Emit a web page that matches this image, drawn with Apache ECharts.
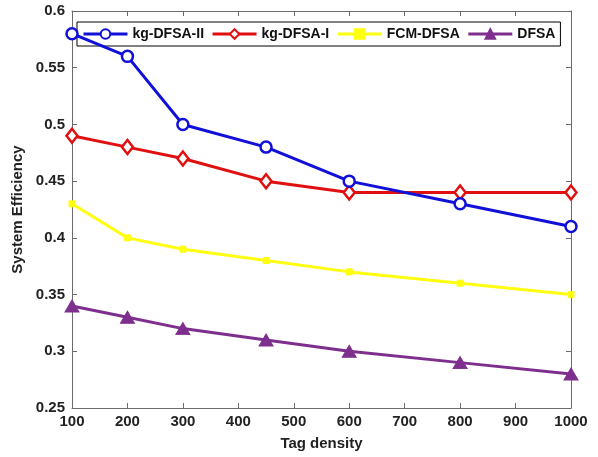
<!DOCTYPE html>
<html>
<head>
<meta charset="utf-8">
<script src="https://cdn.jsdelivr.net/npm/echarts@6/dist/echarts.min.js"></script>
<style>
  html, body { margin: 0; padding: 0; background: #fff; }
  #chart { width: 598px; height: 457px; }
</style>
</head>
<body>
<div id="chart"></div>
<script>
// Tag density sample points
const tagDensity = [100, 200, 300, 450, 600, 800, 1000];
// System efficiency per scheme
const kgDfsaII = [0.58, 0.56, 0.50, 0.48, 0.45, 0.43, 0.41];
const kgDfsaI  = [0.49, 0.48, 0.47, 0.45, 0.44, 0.44, 0.44];
const fcmDfsa  = [0.43, 0.40, 0.39, 0.38, 0.37, 0.36, 0.35];
const dfsa     = [0.34, 0.33, 0.32, 0.31, 0.30, 0.29, 0.28];
const seriesNames = ['kg-DFSA-II', 'kg-DFSA-I', 'FCM-DFSA', 'DFSA'];

const font = 'Liberation Sans, Arial, sans-serif';
const axisColor = '#6b6b6b';

function pairs(ys) { return tagDensity.map((x, i) => [x, ys[i]]); }

const chart = echarts.init(document.getElementById('chart'), null, { renderer: 'canvas' });

const baseX = {
  type: 'value', min: 100, max: 1000, interval: 100,
  axisLine: { show: true, lineStyle: { color: axisColor, width: 1 } },
  axisTick: { show: true, inside: true, length: 5, lineStyle: { color: axisColor } },
  splitLine: { show: false }
};
const baseY = {
  type: 'value', min: 0.25, max: 0.6, interval: 0.05,
  axisLine: { show: true, lineStyle: { color: axisColor, width: 1 } },
  axisTick: { show: true, inside: true, length: 5, lineStyle: { color: axisColor } },
  splitLine: { show: false }
};

chart.setOption({
  animation: false,
  backgroundColor: '#fff',
  grid: { left: 72, right: 27, top: 11, bottom: 49, containLabel: false },
  legend: {
    data: [
      { name: seriesNames[0] },
      { name: seriesNames[1] },
      { name: seriesNames[2], itemStyle: { color: '#ffff10', borderColor: '#ffff10' } },
      { name: seriesNames[3] }
    ],
    left: 77, top: 22, width: 490,
    itemGap: 7,
    itemWidth: 44, itemHeight: 12,
    padding: [5, 5, 5, 5],
    borderColor: '#000', borderWidth: 1,
    backgroundColor: '#fff',
    lineStyle: { width: 3 },
    textStyle: { fontFamily: font, fontWeight: 'bold', fontSize: 14, color: '#111' }
  },
  xAxis: [
    Object.assign({}, baseX, {
      position: 'bottom',
      name: 'Tag density', nameLocation: 'middle', nameGap: 28,
      nameTextStyle: { fontFamily: font, fontWeight: 'bold', fontSize: 15, color: '#222' },
      axisLabel: { fontFamily: font, fontWeight: 'bold', fontSize: 15, color: '#222', margin: 6,
        formatter: v => String(v) }
    }),
    Object.assign({}, baseX, { position: 'top', axisLabel: { show: false } })
  ],
  yAxis: [
    Object.assign({}, baseY, {
      position: 'left',
      name: 'System Efficiency', nameLocation: 'middle', nameGap: 43,
      nameTextStyle: { fontFamily: font, fontWeight: 'bold', fontSize: 15, color: '#222' },
      axisLabel: { fontFamily: font, fontWeight: 'bold', fontSize: 15, color: '#222', margin: 7,
        formatter: v => String(parseFloat(v.toFixed(2))) }
    }),
    Object.assign({}, baseY, { position: 'right', axisLabel: { show: false } })
  ],
  series: [
    {
      name: seriesNames[0], type: 'line', data: pairs(kgDfsaII),
      symbol: 'circle', symbolSize: 11, showAllSymbol: true,
      lineStyle: { color: '#1010d8', width: 3 },
      itemStyle: { color: '#fff', borderColor: '#1010d8', borderWidth: 2.5 },
      z: 5
    },
    {
      name: seriesNames[1], type: 'line', data: pairs(kgDfsaI),
      symbol: 'diamond', symbolSize: [11, 14],
      lineStyle: { color: '#e01010', width: 3 },
      itemStyle: { color: '#fff', borderColor: '#e01010', borderWidth: 2.5 },
      z: 4
    },
    {
      name: seriesNames[2], type: 'line', data: pairs(fcmDfsa),
      symbol: 'rect', symbolSize: 6,
      lineStyle: { color: '#ffff10', width: 3 },
      itemStyle: { color: '#ffff10', borderColor: '#ffff10', borderWidth: 1 },
      z: 3
    },
    {
      name: seriesNames[3], type: 'line', data: pairs(dfsa),
      symbol: 'triangle', symbolSize: [14, 12],
      lineStyle: { color: '#7e2f8e', width: 3 },
      itemStyle: { color: '#7e2f8e', borderColor: '#7e2f8e', borderWidth: 1 },
      z: 2
    }
  ]
});
</script>
</body>
</html>
